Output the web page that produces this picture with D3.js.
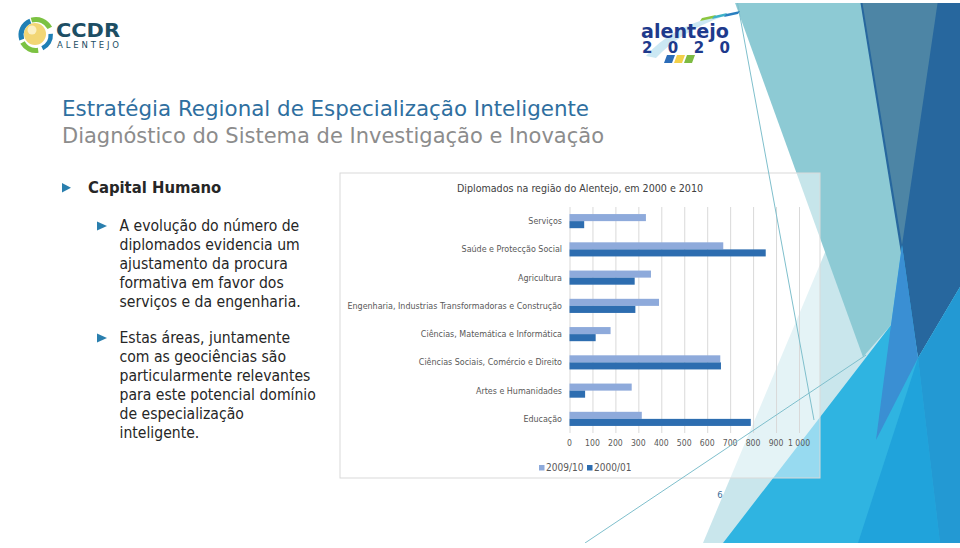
<!DOCTYPE html>
<html><head><meta charset="utf-8">
<script src="https://cdn.jsdelivr.net/npm/d3@7"></script>
<style>html,body{margin:0;padding:0;background:#fff;} svg{display:block;}</style>
</head><body>
<svg id="c" width="960" height="548"></svg>
<script>
// ---- data ----
const categories = ["Serviços","Saúde e Protecção Social","Agricultura","Engenharia, Industrias Transformadoras e Construção","Ciências, Matemática e Informática","Ciências Sociais, Comércio e Direito","Artes e Humanidades","Educação"];
const seriesNames = ["2009/10","2000/01"];
const values200910 = [333, 670, 355, 390, 179, 657, 271, 315];
const values200001 = [64, 855, 284, 287, 114, 660, 68, 790];
const xTickValues = [0,100,200,300,400,500,600,700,800,900,1000];
const xTickLabels = ["0","100","200","300","400","500","600","700","800","900","1 000"];
const chartTitle = "Diplomados na região do Alentejo, em 2000 e 2010";
const titleLine1 = "Estratégia Regional de Especialização Inteligente";
const titleLine2 = "Diagnóstico do Sistema de Investigação e Inovação";
const sectionHead = "Capital Humano";
const bullet1 = ["A evolução do número de","diplomados evidencia um","ajustamento da procura","formativa em favor dos","serviços e da engenharia."];
const bullet2 = ["Estas áreas, juntamente","com as geociências são","particularmente relevantes","para este potencial domínio","de especialização","inteligente."];

const svg = d3.select("#c");
const F = "'DejaVu Sans Condensed','DejaVu Sans',sans-serif";
svg.append("rect").attr("width",960).attr("height",548).attr("fill","#fff");

// ---- decorative facets (behind chart) ----
const poly = (pts, fill, op=1) => svg.append("polygon").attr("points", pts.map(p=>p.join(",")).join(" ")).attr("fill", fill).attr("opacity", op);
poly([[703,543],[931,0],[960,0],[960,543]], "#c9e6ec");
poly([[734,0],[862,0],[902,245],[891,325],[863,357]], "#8dcad4");
poly([[860,0],[960,0],[960,287],[918,358]], "#27679e");
poly([[862,0],[938,0],[902,245]], "#4d85a5");
poly([[723,543],[891,325],[902,245],[918,358],[960,287],[960,543]], "#2fb4e1");
poly([[918,358],[858,543],[940,543]], "#20a3db");
poly([[918,358],[960,287],[960,543],[940,543]], "#2399d3");
poly([[902,245],[918,358],[876,440],[891,325]], "#3a8fd3");

// ---- chart ----
const frame = {x:340, y:173, w:480, h:305};
svg.append("rect").attr("x",frame.x).attr("y",frame.y).attr("width",frame.w).attr("height",frame.h)
  .attr("fill","#fff").attr("fill-opacity",0.5).attr("stroke","#d9d9d9").attr("stroke-width",1);

const x = d3.scaleLinear().domain([0,1000]).range([569.5, 799]);
const y = d3.scaleBand().domain(categories).range([207, 433]).paddingInner(0.5).paddingOuter(0.25);
const ys = d3.scaleBand().domain(seriesNames).range([0, y.bandwidth()]);
const colors = d3.scaleOrdinal().domain(seriesNames).range(["#8eaadb","#2d6db0"]);

const g = svg.append("g");
g.selectAll("line.grid").data(xTickValues).join("line").attr("class","grid")
  .attr("x1", d=>x(d)+0.5).attr("x2", d=>x(d)+0.5).attr("y1", 207).attr("y2", 433)
  .attr("stroke","#d9d9d9").attr("stroke-width",1);

const rows = categories.map((c,i)=>({c, vals:[{s:seriesNames[0], v:values200910[i]},{s:seriesNames[1], v:values200001[i]}]}));
const rg = g.selectAll("g.row").data(rows).join("g").attr("transform", d=>`translate(0,${y(d.c)})`);
rg.selectAll("rect").data(d=>d.vals).join("rect")
  .attr("x", x(0)).attr("y", d=>ys(d.s)).attr("height", ys.bandwidth())
  .attr("width", d=>x(d.v)-x(0)).attr("fill", d=>colors(d.s));

g.selectAll("text.cat").data(categories).join("text").attr("class","cat")
  .attr("x", 562).attr("y", d=>y(d)+y.bandwidth()/2+3)
  .attr("text-anchor","end").attr("font-family",F).attr("font-size",8.9).attr("fill","#595959").text(d=>d);

g.selectAll("text.xt").data(xTickValues).join("text").attr("class","xt")
  .attr("x", d=>x(d)).attr("y", 446).attr("text-anchor","middle")
  .attr("font-family",F).attr("font-size",8.6).attr("fill","#595959")
  .text((d,i)=>xTickLabels[i]);

g.append("text").attr("x",580).attr("y",192).attr("text-anchor","middle")
  .attr("font-family",F).attr("font-size",10.6).attr("fill","#404040").text(chartTitle);

// legend
const lg = g.append("g");
const legX = [539, 587];
seriesNames.forEach((s,i)=>{
  lg.append("rect").attr("x",legX[i]).attr("y",465).attr("width",5.5).attr("height",5.5).attr("fill",colors(s));
  lg.append("text").attr("x",legX[i]+7).attr("y",471).attr("font-family",F).attr("font-size",10)
    .attr("fill","#595959").text(s);
});

// ---- thin facet lines (over chart) ----
svg.append("line").attr("x1",737).attr("y1",0).attr("x2",814).attr("y2",420).attr("stroke","#7fbfcc").attr("stroke-width",1);
svg.append("line").attr("x1",585).attr("y1",543).attr("x2",866).attr("y2",355).attr("stroke","#7fbfcc").attr("stroke-width",1);

// top/bottom slide margins
svg.append("rect").attr("x",0).attr("y",0).attr("width",960).attr("height",3).attr("fill","#fff");
svg.append("rect").attr("x",0).attr("y",543).attr("width",960).attr("height",5).attr("fill","#fff");

// ---- slide number ----
svg.append("text").attr("x",720).attr("y",498).attr("text-anchor","middle").attr("font-family",F)
  .attr("font-size",9.5).attr("fill","#3a6f9a").text("6");

// ---- titles ----
const TF = "'DejaVu Sans',sans-serif";
svg.append("text").attr("x",62).attr("y",116).attr("font-family",TF).attr("font-size",20.5)
  .attr("fill","#2f6fa0").attr("textLength",527).attr("lengthAdjust","spacingAndGlyphs").text(titleLine1);
svg.append("text").attr("x",62).attr("y",142.5).attr("font-family",TF).attr("font-size",20.5)
  .attr("fill","#8c8c8c").attr("textLength",542).attr("lengthAdjust","spacingAndGlyphs").text(titleLine2);

const tri = (x0,y0,w,h,fill)=> svg.append("polygon").attr("points",`${x0},${y0} ${x0+w},${y0+h/2} ${x0},${y0+h}`).attr("fill",fill);
tri(62,183,9,9.5,"#2a7fae");
svg.append("text").attr("x",88).attr("y",193).attr("font-family",F).attr("font-size",16.5).attr("font-weight","bold")
  .attr("fill","#262626").text(sectionHead);

tri(97,221.5,10,9,"#2a7fae");
bullet1.forEach((t,i)=> svg.append("text").attr("x",119.5).attr("y",230.5+i*19).attr("font-family",F).attr("font-size",15.6).attr("fill","#262626").text(t));
tri(97,333.5,10,9,"#2a7fae");
bullet2.forEach((t,i)=> svg.append("text").attr("x",119.5).attr("y",343+i*19).attr("font-family",F).attr("font-size",15.6).attr("fill","#262626").text(t));

// ---- CCDR logo ----
const arc = d3.arc();
const lc = svg.append("g").attr("transform","translate(36,35)");
lc.append("path").attr("d", arc({innerRadius:13, outerRadius:18, startAngle:-0.3, endAngle:1.1})).attr("fill","#7cc242");
lc.append("path").attr("d", arc({innerRadius:12.5, outerRadius:17, startAngle:1.5, endAngle:2.7})).attr("fill","#1f7fb5");
lc.append("path").attr("d", arc({innerRadius:13, outerRadius:18, startAngle:3.0, endAngle:4.2})).attr("fill","#7cc242");
lc.append("path").attr("d", arc({innerRadius:12.5, outerRadius:17.5, startAngle:4.4, endAngle:5.9})).attr("fill","#1f7fb5");
lc.append("circle").attr("cx",-1).attr("cy",-1).attr("r",11).attr("fill","#f2d675");
lc.append("circle").attr("cx",-4).attr("cy",-5).attr("r",4.5).attr("fill","#fbf0c4");
svg.append("text").attr("x",56).attr("y",37).attr("font-family","'DejaVu Sans',sans-serif").attr("font-weight","bold")
  .attr("font-size",19).attr("fill","#1d4e64").attr("textLength",64).attr("lengthAdjust","spacingAndGlyphs").text("CCDR");
svg.append("text").attr("x",57).attr("y",47.5).attr("font-family","'DejaVu Sans',sans-serif")
  .attr("font-size",8.5).attr("fill","#1d4e64").attr("textLength",62).attr("lengthAdjust","spacing").text("ALENTEJO");

// ---- alentejo 2020 logo ----
svg.append("path").attr("d","M646,56 Q670,28 716,16 L724,16 Q680,32 656,58 Z").attr("fill","#cbe8f3");
const stripes = [["#8cc63f",700,21,14],["#3eb1c8",712,19,13],["#2a7fc0",724,17,14]];
stripes.forEach(s=>svg.append("polygon").attr("points",`${s[1]},${s[2]} ${s[1]+s[3]},${s[2]-3} ${s[1]+s[3]+2},${s[2]-6} ${s[1]+2},${s[2]-3}`).attr("fill",s[0]));
svg.append("text").attr("x",641).attr("y",38).attr("font-family","'DejaVu Sans',sans-serif").attr("font-weight","bold")
  .attr("font-size",19.5).attr("fill","#1e3a8c").attr("textLength",88).attr("lengthAdjust","spacingAndGlyphs").text("alentejo");
svg.append("text").attr("x",642).attr("y",52.5).attr("font-family","'DejaVu Sans',sans-serif").attr("font-weight","bold")
  .attr("font-size",15).attr("fill","#1e3a8c").attr("textLength",88).attr("lengthAdjust","spacing").text("2020");
const bst = [["#2b6cb8",664],["#f2d04a",674],["#7dbb42",684]];
bst.forEach(s=>svg.append("polygon").attr("points",`${s[1]},63 ${s[1]+8},63 ${s[1]+11},55 ${s[1]+3},55`).attr("fill",s[0]));
</script>
</body></html>
